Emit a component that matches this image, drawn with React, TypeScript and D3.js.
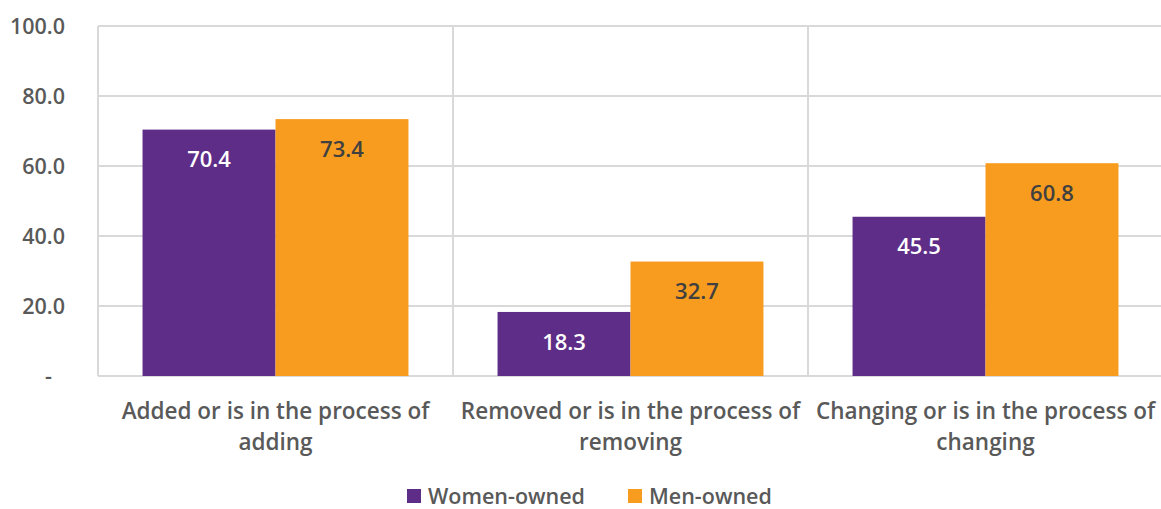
import React from "react"
import * as d3 from "d3"

const categories = [
  ["Added or is in the process of", "adding"],
  ["Removed or is in the process of", "removing"],
  ["Changing or is in the process of", "changing"],
]
const seriesNames = ["Women-owned", "Men-owned"]
const women = [70.4, 18.3, 45.5]
const men = [73.4, 32.7, 60.8]
const yTicks = [0, 20, 40, 60, 80, 100]

const colors = ["#5E2D88", "#F89C1F"]
const labelColors = ["#FFFFFF", "#404040"]
const font = "'Open Sans', 'Noto Sans', sans-serif"

export default function App() {
  const width = 1161
  const height = 509
  const margin = { top: 26, right: -2, bottom: 133, left: 98 }

  const x = d3.scaleBand<number>()
    .domain(categories.map((_, i) => i))
    .range([margin.left, width - margin.right])

  const x1 = d3.scaleBand<number>()
    .domain([0, 1])
    .range([0, x.bandwidth()])
    .paddingOuter(0.335)
    .paddingInner(0)

  const y = d3.scaleLinear()
    .domain([0, 100])
    .range([height - margin.bottom, margin.top])

  const values = [women, men]

  return (
    <svg width={width} height={height} style={{ position: "absolute", left: 0, top: 0 }}>
      {/* horizontal gridlines */}
      {yTicks.map(t => (
        <line key={"g" + t} x1={margin.left} x2={width} y1={y(t)} y2={y(t)}
          stroke="#D9D9D9" strokeWidth={2} />
      ))}
      {/* category separators */}
      {categories.map((_, i) => (
        <line key={"v" + i} x1={x(i)!} x2={x(i)!} y1={y(100)} y2={y(0)}
          stroke="#D9D9D9" strokeWidth={2} />
      ))}
      {/* y tick labels */}
      {yTicks.map(t => (
        <text key={"t" + t} x={t === 0 ? 52 : 65} y={y(t)} dy="0.35em" textAnchor="end"
          fontFamily={font} fontWeight={600} fontSize={21.5} fill="#595959">
          {t === 0 ? "-" : t.toFixed(1)}
        </text>
      ))}
      {/* bars */}
      {values.map((vals, s) =>
        vals.map((v, i) => (
          <rect key={`b${s}-${i}`} x={x(i)! + x1(s)!} y={y(v)} width={x1.bandwidth()}
            height={y(0) - y(v)} fill={colors[s]} />
        ))
      )}
      {/* value labels */}
      {values.map((vals, s) =>
        vals.map((v, i) => (
          <text key={`l${s}-${i}`} x={x(i)! + x1(s)! + x1.bandwidth() / 2} y={y(v) + 30}
            dy="0.35em" textAnchor="middle" fontFamily={font} fontWeight={600}
            fontSize={22} fill={labelColors[s]}>
            {v.toFixed(1)}
          </text>
        ))
      )}
      {/* category labels */}
      {categories.map((lines, i) => (
        <text key={"c" + i} x={x(i)! + x.bandwidth() / 2} textAnchor="middle"
          fontFamily={font} fontWeight={600} fontSize={22.5} fill="#595959">
          {lines.map((ln, j) => (
            <tspan key={j} x={x(i)! + x.bandwidth() / 2} y={419 + j * 31}>{ln}</tspan>
          ))}
        </text>
      ))}
      {/* legend */}
      {seriesNames.map((name, s) => {
        const lx = s === 0 ? 407 : 628
        return (
          <g key={"lg" + s}>
            <rect x={lx} y={489} width={14} height={14} fill={colors[s]} />
            <text x={lx + 21} y={496} dy="0.35em" fontFamily={font} fontWeight={600}
              fontSize={21.5} fill="#595959">{name}</text>
          </g>
        )
      })}
    </svg>
  )
}
